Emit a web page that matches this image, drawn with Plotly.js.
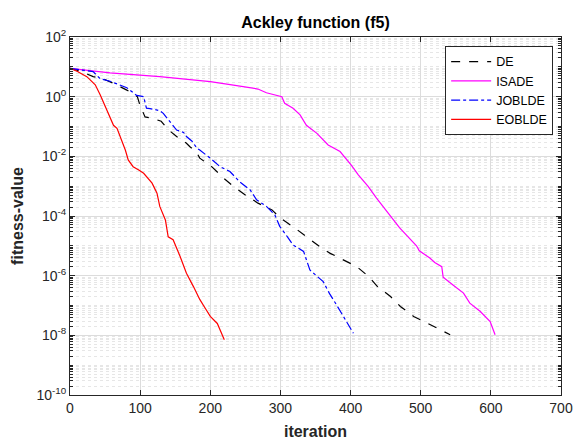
<!DOCTYPE html>
<html>
<head>
<meta charset="utf-8">
<script src="https://cdn.plot.ly/plotly-3.0.1.min.js"></script>
<style>html,body{margin:0;padding:0;background:#fff;}#chart{width:573px;height:442px;}</style>
</head>
<body>
<div id="chart"></div>
<script>
// DE
const deX = [0, 15, 33, 47, 62, 81, 96, 100, 107, 117, 130, 140, 152, 157, 166, 171, 181, 185, 202, 219, 233, 250, 268, 288, 300, 321, 342, 359, 371, 395, 409, 426, 438, 457, 471, 490, 504, 523, 542];
const deY = [8.9, 7.1, 4.7, 4.0, 2.8, 1.66, 1.0, 0.5, 0.21, 0.19, 0.15, 0.079, 0.046, 0.038, 0.0275, 0.021, 0.013, 8.7e-3, 4.5e-3, 1.86e-3, 9.8e-4, 5.1e-4, 2.7e-4, 1.6e-4, 8.5e-5, 3.9e-5, 1.6e-5, 8.3e-6, 5.6e-6, 3.0e-6, 2.0e-6, 9.3e-7, 4.4e-7, 2.0e-7, 9.3e-8, 4.3e-8, 2.9e-8, 1.7e-8, 1.05e-8];
// ISADE
const isadeX = [0, 57, 128, 200, 233, 252, 268, 280, 302, 306, 318, 328, 337, 352, 368, 385, 401, 411, 425, 437, 452, 470, 494, 498, 513, 520, 530, 532, 546, 561, 570, 585, 599, 606];
const isadeY = [8.9, 6.3, 4.7, 3.2, 2.45, 2.1, 1.8, 1.35, 1.0, 0.6, 0.41, 0.245, 0.11, 0.059, 0.024, 0.0145, 5.1e-3, 2.4e-3, 9.8e-4, 4.0e-4, 1.4e-4, 4.0e-5, 1.0e-5, 6.8e-6, 3.9e-6, 2.75e-6, 2.0e-6, 8.9e-7, 4.9e-7, 2.6e-7, 1.2e-7, 6.3e-8, 2.9e-8, 1.05e-8];
// JOBLDE
const jobX = [0, 20, 33, 43, 57, 81, 95, 105, 109, 114, 128, 133, 143, 152, 162, 166, 174, 181, 185, 200, 214, 228, 242, 257, 266, 280, 292, 299, 310, 318, 333, 342, 361, 370, 380, 390, 398, 404];
const jobY = [8.9, 7.6, 6.9, 4.0, 3.3, 2.0, 1.1, 1.0, 0.41, 0.40, 0.34, 0.275, 0.14, 0.076, 0.063, 0.046, 0.032, 0.0186, 0.0162, 8.7e-3, 4.5e-3, 3.1e-3, 1.4e-3, 7.4e-4, 3.5e-4, 2.1e-4, 1.1e-4, 4.5e-5, 2.0e-5, 1.07e-5, 6.5e-6, 1.55e-6, 6.3e-7, 2.5e-7, 1.05e-7, 4.3e-8, 2.0e-8, 1.17e-8];
// EOBLDE
const eobX = [0, 10, 24, 36, 43, 48, 57, 62, 67, 74, 79, 83, 90, 98, 105, 117, 124, 128, 136, 140, 147, 157, 166, 176, 185, 193, 200, 210, 214, 220];
const eobY = [8.9, 7.1, 4.7, 2.5, 1.15, 0.63, 0.21, 0.11, 0.087, 0.032, 0.016, 7.6e-3, 4.5e-3, 3.5e-3, 2.7e-3, 1.26e-3, 5.8e-4, 2.1e-4, 7.4e-5, 2.0e-5, 1.6e-5, 4.4e-6, 1.2e-6, 4.3e-7, 1.6e-7, 7.9e-8, 4.3e-8, 2.5e-8, 1.5e-8, 7.1e-9];

// tick labels
const yTickVals = [1e-10, 1e-8, 1e-6, 1e-4, 1e-2, 1e0, 1e2];
const yTickText = ['10<sup>-10</sup>', '10<sup>-8</sup>', '10<sup>-6</sup>', '10<sup>-4</sup>', '10<sup>-2</sup>', '10<sup>0</sup>', '10<sup>2</sup>'];
const xTickVals = [0, 100, 200, 300, 400, 500, 600, 700];

const names = ['DE', 'ISADE', 'JOBLDE', 'EOBLDE'];
const colors = ['#000000', '#ff00ff', '#0000ff', '#ff0000'];
const dashes = ['dash', 'solid', 'dashdot', 'solid'];
const xs = [deX, isadeX, jobX, eobX];
const ys = [deY, isadeY, jobY, eobY];

const traces = names.map((n, i) => ({
  x: xs[i], y: ys[i], name: n, type: 'scatter', mode: 'lines',
  line: {color: colors[i], width: 1.2, dash: dashes[i]}
}));

const FAM = 'Liberation Sans, Arial, sans-serif';
const tickFont = {family: FAM, size: 14, color: '#262626'};
const layout = {
  width: 573, height: 442,
  margin: {l: 70, r: 12, t: 37, b: 47},
  paper_bgcolor: '#ffffff', plot_bgcolor: '#ffffff',
  font: tickFont,
  title: {text: '<b>Ackley function (f5)</b>', x: 0.5506, xanchor: 'center', y: 0.950, yanchor: 'middle',
          font: {family: FAM, size: 16, color: '#000'}},
  xaxis: {
    range: [0, 700], tickvals: xTickVals,
    ticks: 'inside', ticklen: 5, tickcolor: '#262626', tickwidth: 1,
    showline: true, linecolor: '#262626', linewidth: 1, mirror: 'allticks',
    showgrid: true, gridcolor: '#dcdcdc', gridwidth: 1, zeroline: false,
    tickfont: tickFont,
    title: {text: '<b>iteration</b>', standoff: 11, font: {family: FAM, size: 16, color: '#262626'}}
  },
  yaxis: {
    type: 'log', range: [-10, 2], tickvals: yTickVals, ticktext: yTickText,
    ticks: 'inside', ticklen: 5, tickcolor: '#262626', tickwidth: 1,
    showline: true, linecolor: '#262626', linewidth: 1, mirror: 'allticks',
    showgrid: true, gridcolor: '#dcdcdc', gridwidth: 1, zeroline: false,
    tickfont: tickFont,
    minor: {dtick: 'D1', ticks: 'inside', ticklen: 3, tickcolor: '#262626', showgrid: true, gridcolor: '#e6e6e6', griddash: 'dot', gridwidth: 1},
    title: {text: '<b>fitness-value</b>', standoff: 8, font: {family: FAM, size: 16, color: '#262626'}}
  },
  legend: {
    x: 0.984, xanchor: 'right', y: 0.975, yanchor: 'top',
    bgcolor: '#ffffff', bordercolor: '#262626', borderwidth: 1,
    font: {family: FAM, size: 12.5, color: '#000'},
    tracegroupgap: 0, itemwidth: 40
  },
  showlegend: true
};

Plotly.newPlot('chart', traces, layout, {displayModeBar: false, staticPlot: true});
</script>
</body>
</html>
